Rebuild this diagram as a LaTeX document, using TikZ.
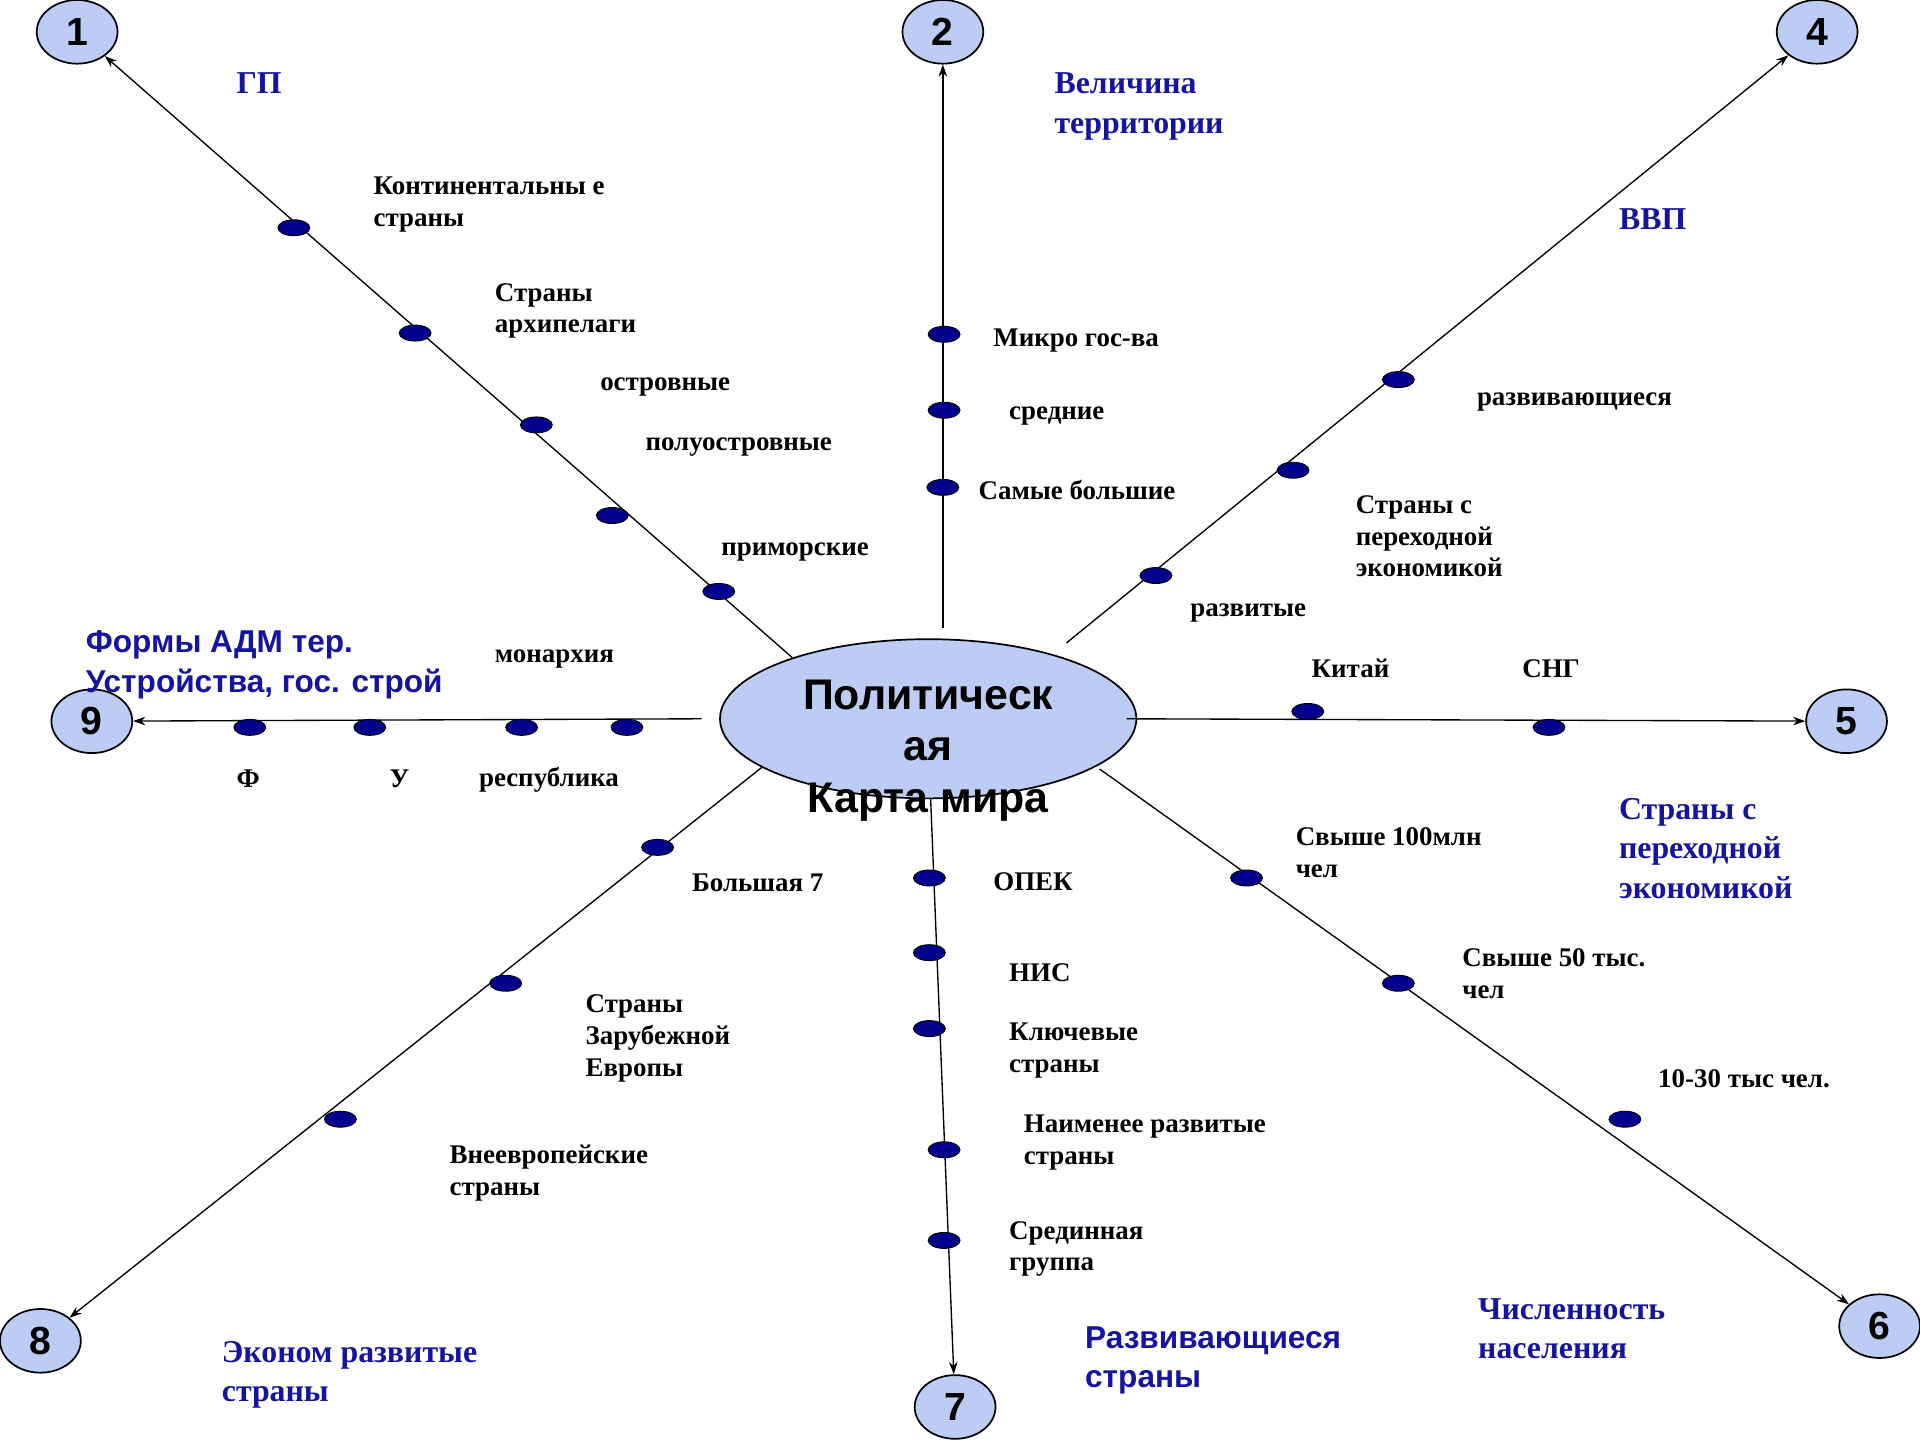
\documentclass[tikz,border=0pt]{standalone}
\usepackage{fontspec}
\setmainfont{Liberation Serif}
\setsansfont{Liberation Sans}
\usetikzlibrary{arrows.meta,shapes.geometric}

\definecolor{mapfill}{RGB}{188,204,244}
\definecolor{beadblue}{RGB}{0,0,140}
\definecolor{catblue}{RGB}{20,20,160}

\begin{document}
\begin{tikzpicture}[
		x=1pt, y=-1pt,
		numcirc/.style={ellipse, draw, fill=mapfill, line width=1.4pt,
			minimum width=66pt, minimum height=52pt, inner sep=0pt,
			font=\sffamily\bfseries\fontsize{32}{32}\selectfont},
		hub/.style={ellipse, draw, fill=mapfill, line width=1.4pt,
			minimum width=340pt, minimum height=130pt},
		hubtext/.style={align=center, inner sep=0pt,
			font=\sffamily\bfseries\fontsize{35}{42}\selectfont},
		bead/.style={ellipse, draw, fill=beadblue, line width=0.8pt,
			minimum width=26pt, minimum height=13pt, inner sep=0pt},
		lbl/.style={anchor=west, align=left, inner sep=0pt,
			font=\bfseries\fontsize{22}{26}\selectfont},
		cat/.style={lbl, text=catblue, font=\bfseries\fontsize{26}{32}\selectfont},
		catsans/.style={cat, font=\sffamily\bfseries\fontsize{25.8}{32}\selectfont},
		arrow/.style={-{Stealth[length=10pt, width=7pt]}, line width=1.1pt},
		]
		\useasboundingbox (0,0) rectangle (1568,1176);
		
		% centre
		\node[hub] (map) at (758,587) {};
		
		% numbered ends
		\node[numcirc] (n1) at (63,26) {1};
		\node[numcirc] (n2) at (770,26) {2};
		\node[numcirc] (n4) at (1484,26) {4};
		\node[numcirc] (n5) at (1508,589) {5};
		\node[numcirc] (n6) at (1535,1083) {6};
		\node[numcirc] (n7) at (780,1149) {7};
		\node[numcirc] (n8) at (33,1095) {8};
		\node[numcirc] (n9) at (75,589) {9};
		
		% start points of the rays
		\coordinate (s1) at (647,537);
		\coordinate (s2) at (770,513);
		\coordinate (s4) at (871,525);
		\coordinate (s5) at (920,587);
		\coordinate (s6) at (898,628);
		\coordinate (s7) at (760,652);
		\coordinate (s8) at (623,626);
		\coordinate (s9) at (573,587);
		
		\draw[arrow] (s1) -- (n1);
		\draw[arrow] (s2) -- (n2);
		\draw[arrow] (s4) -- (n4);
		\draw[arrow] (s5) -- (n5);
		\draw[arrow] (s6) -- (n6);
		\draw[arrow] (s7) -- (n7);
		\draw[arrow] (s8) -- (n8);
		\draw[arrow] (s9) -- (n9);
		
		% beads
		\node[bead] (gp1) at (240,186) {};
		\node[bead] (gp2) at (339,272) {};
		\node[bead] (gp3) at (438,347) {};
		\node[bead] (gp4) at (500,421) {};
		\node[bead] (gp5) at (587,483) {};
		\node[bead] (ar1) at (771,273) {};
		\node[bead] (ar2) at (771,335) {};
		\node[bead] (ar3) at (770,398) {};
		\node[bead] (gdp1) at (1142,310) {};
		\node[bead] (gdp2) at (1056,384) {};
		\node[bead] (gdp3) at (944,470) {};
		\node[bead] (tr1) at (1068,581) {};
		\node[bead] (tr2) at (1265,594) {};
		\node[bead] (pop1) at (1018,717) {};
		\node[bead] (pop2) at (1142,803) {};
		\node[bead] (pop3) at (1327,914) {};
		\node[bead] (dev1) at (759,717) {};
		\node[bead] (dev2) at (759,778) {};
		\node[bead] (dev3) at (759,840) {};
		\node[bead] (dev4) at (771,939) {};
		\node[bead] (dev5) at (771,1013) {};
		\node[bead] (ec1) at (537,692) {};
		\node[bead] (ec2) at (413,803) {};
		\node[bead] (ec3) at (278,914) {};
		\node[bead] (fm1) at (204,594) {};
		\node[bead] (fm2) at (302,594) {};
		\node[bead] (fm3) at (426,594) {};
		\node[bead] (fm4) at (512,594) {};
		
		\node[hubtext] (maptxt) at (758,613) {Политическ\\ая\\Карта мира};
		
		% item labels
		\node[lbl] (tcont) at (305,167) {Континентальны е\\страны};
		\node[lbl] (tarch) at (404,254) {Страны\\архипелаги};
		\node[lbl] (tisl) at (490,316) {островные};
		\node[lbl] (tpen) at (527,365) {полуостровные};
		\node[lbl] (tsea) at (589,451) {приморские};
		\node[lbl] (tmicro) at (811,278) {Микро гос-ва};
		\node[lbl] (tmid) at (824,340) {средние};
		\node[lbl] (tbig) at (799,400) {Самые большие};
		\node[lbl] (tdevg) at (1206,328) {развивающиеся};
		\node[lbl] (ttrans) at (1107,438) {Страны с\\переходной\\экономикой};
		\node[lbl] (tdevd) at (972,501) {развитые};
		\node[lbl] (tchina) at (1071,546) {Китай};
		\node[lbl] (tcis) at (1243,546) {СНГ};
		\node[lbl] (tmon) at (404,538) {монархия};
		\node[lbl] (tf) at (193,636) {Ф};
		\node[lbl] (tu) at (318,636) {У};
		\node[lbl] (trep) at (391,637) {республика};
		\node[lbl] (tg7) at (565,721) {Большая 7};
		\node[lbl] (topec) at (811,720) {ОПЕК};
		\node[lbl] (tnis) at (824,794) {НИС};
		\node[lbl] (tkey) at (824,858) {Ключевые\\страны};
		\node[lbl] (tleast) at (836,933) {Наименее развитые\\страны};
		\node[lbl] (tmed) at (824,1020) {Срединная\\группа};
		\node[lbl] (tp100) at (1058,696) {Свыше 100млн\\чел};
		\node[lbl] (tp50) at (1194,795) {Свыше 50 тыс.\\чел};
		\node[lbl] (tp10) at (1354,881) {10-30 тыс чел.};
		\node[lbl] (teur) at (478,848) {Страны\\Зарубежной\\Европы};
		\node[lbl] (tneur) at (367,958) {Внеевропейские\\страны};
		
		% category labels
		\node[cat] (cgp) at (193,68) {ГП};
		\node[cat] (carea) at (861,87) {Величина\\территории};
		\node[cat] (cgdp) at (1322,179) {ВВП};
		\node[cat] (ctrans) at (1322,693) {Страны с\\переходной\\экономикой};
		\node[cat] (cpop) at (1207,1085) {Численность\\населения};
		\node[cat] (cecon) at (181,1123) {Эконом развитые\\страны};
		\node[catsans] (cdev) at (886,1111) {Развивающиеся\\страны};
		\node[catsans] (cform) at (70,543) {Формы АДМ тер.\\Устройства, гос. строй};
		
	\end{tikzpicture}
\end{document}
